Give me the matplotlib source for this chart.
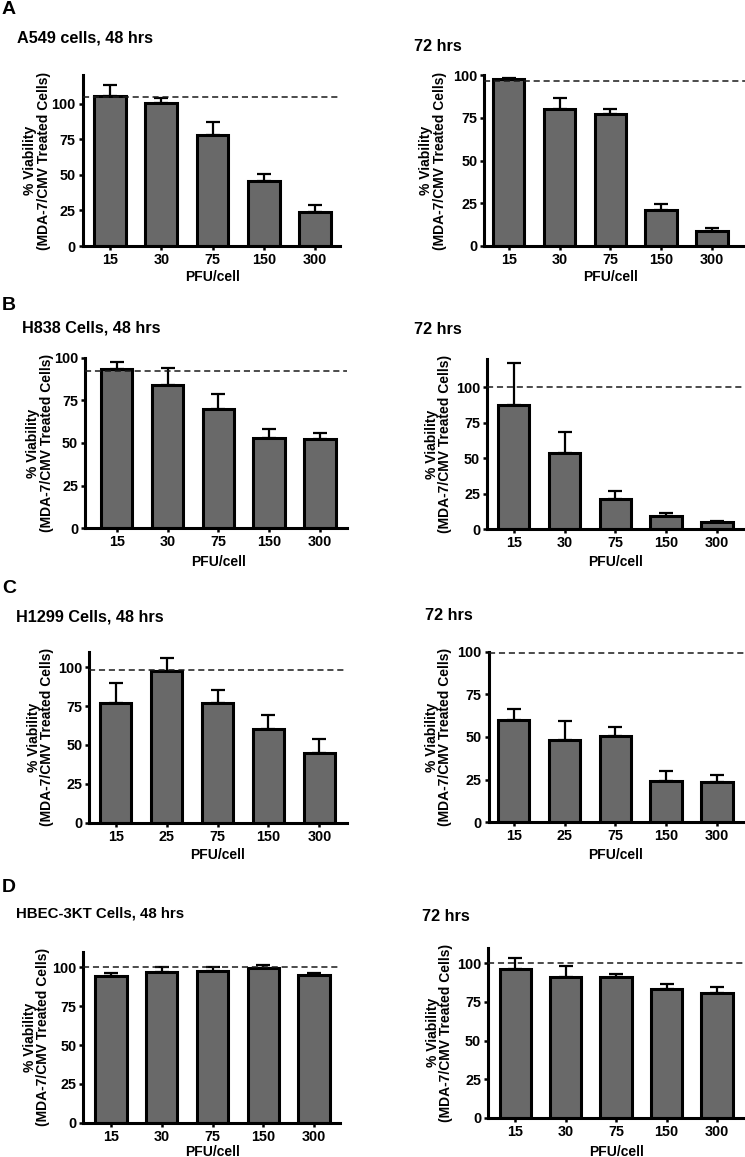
import matplotlib
matplotlib.use("Agg")
import matplotlib.pyplot as plt
from matplotlib import font_manager
import numpy as np

plt.rcParams['font.family'] = ['Liberation Sans', 'DejaVu Sans']
plt.rcParams['font.weight'] = 'bold'

# ---------------- data ----------------
pfu_a = ["15", "30", "75", "150", "300"]
pfu_b = ["15", "30", "75", "150", "300"]
pfu_c = ["15", "25", "75", "150", "300"]
pfu_d = ["15", "30", "75", "150", "300"]

a549_48 = [105.6, 100.7, 78.0, 45.9, 23.7]
a549_48_err = [7.2, 3.3, 9.0, 4.5, 5.3]
a549_72 = [97.9, 80.3, 77.3, 21.1, 8.6]
a549_72_err = [0.6, 6.2, 3.1, 3.6, 1.6]

h838_48 = [93.4, 84.0, 69.9, 53.1, 52.3]
h838_48_err = [4.3, 10.1, 9.0, 4.9, 3.7]
h838_72 = [87.5, 53.7, 21.3, 9.6, 4.9]
h838_72_err = [29.8, 15.0, 5.9, 1.9, 0.6]

h1299_48 = [77.1, 97.5, 76.7, 60.4, 45.0]
h1299_48_err = [12.5, 8.5, 8.6, 8.8, 8.6]
h1299_72 = [59.9, 48.4, 50.4, 24.2, 23.4]
h1299_72_err = [6.7, 11.2, 5.6, 5.7, 4.3]

hbec_48 = [94.7, 97.2, 97.7, 99.4, 95.1]
hbec_48_err = [1.5, 3.2, 2.7, 2.1, 1.5]
hbec_72 = [96.5, 91.3, 90.9, 83.2, 80.6]
hbec_72_err = [6.9, 6.7, 2.2, 3.4, 4.3]

ref_lines = [104.7, 96.9, 92.4, 100.0, 98.1, 99.0, 100.0, 100.0]

titles = ["A549 cells, 48 hrs", "72 hrs", "H838 Cells, 48 hrs", "72 hrs",
          "H1299 Cells, 48 hrs", "72 hrs", "HBEC-3KT Cells, 48 hrs", "72 hrs"]
panel_letters = ["A", "B", "C", "D"]
yticks = [0, 25, 50, 75, 100]
ylabel = "% Viability\n(MDA-7/CMV Treated Cells)"
xlabel = "PFU/cell"

series = [
    (pfu_a, a549_48, a549_48_err), (pfu_a, a549_72, a549_72_err),
    (pfu_b, h838_48, h838_48_err), (pfu_b, h838_72, h838_72_err),
    (pfu_c, h1299_48, h1299_48_err), (pfu_c, h1299_72, h1299_72_err),
    (pfu_d, hbec_48, hbec_48_err), (pfu_d, hbec_72, hbec_72_err),
]

# ---------------- layout (pixels) ----------------
W, H = 745, 1157
# spine_x, tick0_x, spacing, end_x, bottom_y, px_per_100, ymax
geom = [
    (82.7, 110.0, 51.25, 340.0, 246.0, 142.3, 120),
    (484.3, 508.7, 50.8, 752.0, 245.7, 170.3, 100),
    (85.0, 116.7, 50.8, 346.7, 528.3, 170.6, 100),
    (487.0, 513.7, 50.8, 752.0, 529.3, 142.0, 120),
    (89.3, 115.7, 50.9, 346.7, 822.7, 155.6, 110),
    (488.7, 513.7, 50.8, 752.0, 822.3, 170.6, 100),
    (83.3, 111.0, 50.75, 340.0, 1122.7, 155.3, 110),
    (488.0, 515.3, 50.4, 752.0, 1117.7, 154.4, 110),
]
title_pos = [(16.7, 38), (413.7, 46.7), (21.7, 328.3), (413.7, 329),
             (16, 616.7), (425.3, 615), (16, 913.3), (422, 916.7)]
letter_pos = [(2, 10), (2, 305), (2, 589), (2, 888)]
ylabel_x = [37, 433, 40, 438.5, 40.5, 438.5, 36.5, 439.5]
xlabel_y = [277, 562, 855, 1151.7]

# narrow font for the HBEC title if available
narrow_family = None
try:
    font_manager.findfont(font_manager.FontProperties(family='Liberation Sans Narrow',
                                                      weight='bold'),
                          fallback_to_default=False)
    narrow_family = 'Liberation Sans Narrow'
except Exception:
    narrow_family = None

fig = plt.figure(figsize=(W / 100, H / 100), dpi=100)

bar_color = '#696969'

for i, ((cats, vals, errs), g) in enumerate(zip(series, geom)):
    sx, t0, sp, ex, by, p100, ymax = g
    top_y = by - ymax * p100 / 100.0
    ax = fig.add_axes([sx / W, 1 - by / H, (ex - sx) / W, (by - top_y) / H])
    x = np.arange(len(cats))
    ax.errorbar(x, vals, yerr=[np.zeros(len(vals)), errs], fmt='none',
                ecolor='black', elinewidth=1.6, capsize=4.7, capthick=1.6, zorder=1)
    ax.bar(x, vals, width=0.62, color=bar_color, edgecolor='black',
           linewidth=2.2, zorder=2)
    ax.axhline(ref_lines[i], color='#1a1a1a', lw=1.1, ls=(0, (4, 2.5)), zorder=3)
    ax.set_xlim((sx - t0) / sp, (ex - t0) / sp)
    ax.set_ylim(0, ymax)
    ax.set_yticks(yticks)
    ax.set_xticks(x)
    ax.set_xticklabels(cats)
    for s in ['top', 'right']:
        ax.spines[s].set_visible(False)
    for s in ['left', 'bottom']:
        ax.spines[s].set_linewidth(2.2)
    ax.tick_params(axis='both', direction='out', length=3, width=1.8,
                   labelsize=10.4, pad=2)
    for lab in ax.get_xticklabels() + ax.get_yticklabels():
        lab.set_fontweight('bold')
    ax.patch.set_alpha(0)

    # y label
    cy = (by + top_y) / 2
    fig.text(ylabel_x[i] / W, 1 - cy / H, ylabel, rotation=90, ha='center',
             va='center', fontsize=10, fontweight='bold', linespacing=0.95,
             multialignment='center')
    # x label
    fig.text((t0 + 2 * sp) / W, 1 - xlabel_y[i // 2] / H, xlabel, ha='center',
             va='center', fontsize=10, fontweight='bold')
    # title
    tx, ty = title_pos[i]
    if i == 6:
        if narrow_family:
            fig.text(tx / W, 1 - ty / H, titles[i], ha='left', va='center',
                     fontsize=12.5, fontweight='bold',
                     family=[narrow_family, 'Liberation Sans'])
        else:
            fig.text(tx / W, 1 - ty / H, titles[i], ha='left', va='center',
                     fontsize=10.8, fontweight='bold')
    else:
        fig.text(tx / W, 1 - ty / H, titles[i], ha='left', va='center',
                 fontsize=11.7, fontweight='bold')

for L, (lx, ly) in zip(panel_letters, letter_pos):
    fig.text(lx / W, 1 - ly / H, L, ha='left', va='center', fontsize=14,
             fontweight='bold')

fig.savefig('out.png', dpi=100)
